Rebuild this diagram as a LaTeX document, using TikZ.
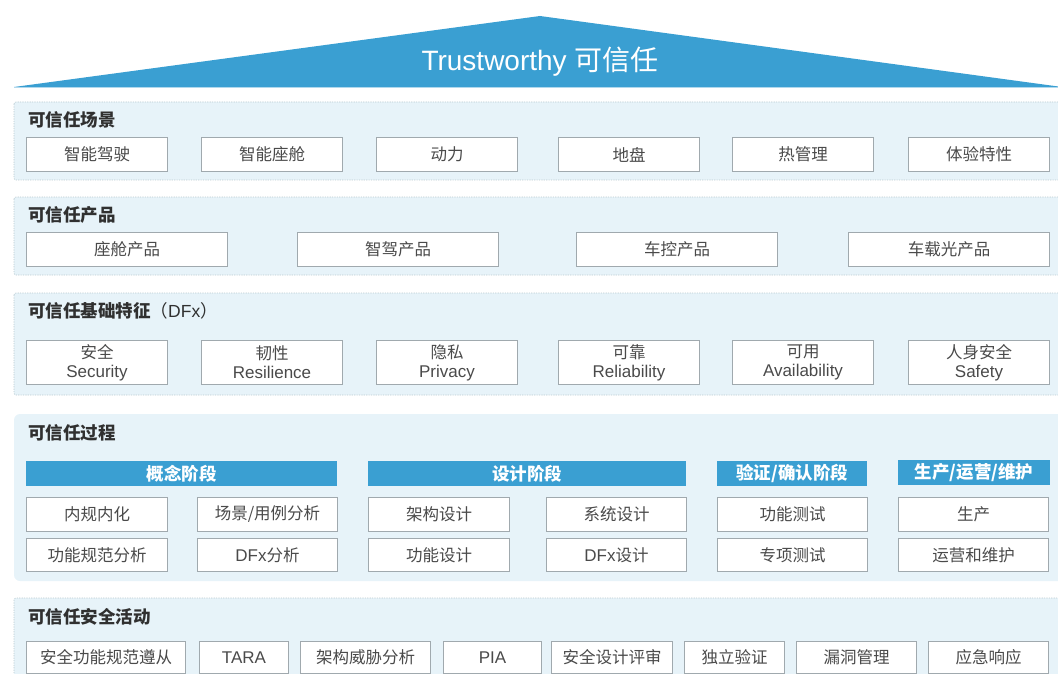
\documentclass[tikz,border=0pt]{standalone}
\usepackage{fontspec}
\setmainfont{Liberation Sans}
\newfontfamily\cjk{Noto Sans CJK SC}
\newcommand\zh[1]{{\cjk\fontsize{16.5}{19}\selectfont #1}}
\definecolor{tblue}{HTML}{3A9FD2}
\definecolor{pfill}{HTML}{E7F3F9}
\definecolor{pline}{HTML}{B9C9D0}
\definecolor{bline}{HTML}{A0A9AE}
\definecolor{btext}{HTML}{4A4A4A}
\definecolor{ttext}{HTML}{303030}
\tikzset{
  panel/.style={fill=pfill,draw=pline,line width=0.6pt,dash pattern=on 1.2pt off 1.2pt,rounded corners=2pt},
  panelr/.style={fill=pfill,rounded corners=6pt},
  ptitle/.style={anchor=west,inner sep=0pt,text=ttext,font=\cjk\bfseries\fontsize{17.5}{20}\selectfont},
  bx/.style={draw=bline,fill=white,line width=1pt,inner sep=0pt,text=btext,align=center,
    font=\fontsize{17}{19}\selectfont},
  hdr/.style={fill=tblue,inner sep=0pt,text=white,anchor=north west,
    font=\cjk\bfseries\fontsize{17.5}{20}\selectfont},
}
\newcommand\bx[6]{\node[bx,minimum width=#4pt,minimum height=#5pt,anchor=north west] (#1) at (#2,#3) {#6};}
\begin{document}
\begin{tikzpicture}[x=1pt,y=-1pt]
\clip (0,0) rectangle (1058,674);
\useasboundingbox (0,0) rectangle (1058,674);
% roof
\fill[tblue] (14,87) -- (540,16) -- (1062,87) -- cycle;
\draw[tblue!40,line width=0.8pt] (14,87.5) -- (1062,87.5);
\node[text=white,inner sep=0pt,font=\fontsize{28}{32}\selectfont] (roof) at (540,62) {Trustworthy {\cjk 可信任}};
% panel 1
\draw[panel] (14,102) rectangle (1070,180);
\node[ptitle] (t1) at (28,120) {可信任场景};
\bx{s1}{26}{137}{141}{34}{\zh{智能驾驶}}
\bx{s2}{201}{137}{141}{34}{\zh{智能座舱}}
\bx{s3}{376}{137}{141}{34}{\zh{动力}}
\bx{s4}{558}{137}{141}{34}{\zh{地盘}}
\bx{s5}{732}{137}{141}{34}{\zh{热管理}}
\bx{s6}{908}{137}{141}{34}{\zh{体验特性}}
% panel 2
\draw[panel] (14,197) rectangle (1070,275);
\node[ptitle] (t2) at (28,215) {可信任产品};
\bx{p1}{26}{232}{201}{34}{\zh{座舱产品}}
\bx{p2}{297}{232}{201}{34}{\zh{智驾产品}}
\bx{p3}{576}{232}{201}{34}{\zh{车控产品}}
\bx{p4}{848}{232}{201}{34}{\zh{车载光产品}}
% panel 3
\draw[panel] (14,293) rectangle (1070,395);
\node[ptitle] (t3) at (28,311) {可信任基础特征\mdseries（{\rmfamily DFx}）};
\bx{f1}{26}{340}{141}{44}{\zh{安全}\\Security}
\bx{f2}{201}{340}{141}{44}{\zh{韧性}\\Resilience}
\bx{f3}{376}{340}{141}{44}{\zh{隐私}\\Privacy}
\bx{f4}{558}{340}{141}{44}{\zh{可靠}\\Reliability}
\bx{f5}{732}{340}{141}{44}{\zh{可用}\\Availability}
\bx{f6}{908}{340}{141}{44}{\zh{人身安全}\\Safety}
% panel 4
\fill[panelr] (14,414) rectangle (1070,581);
\node[ptitle] (t4) at (28,433) {可信任过程};
\node[hdr,minimum width=311pt,minimum height=25pt] (h1) at (26,461) {概念阶段};
\node[hdr,minimum width=318pt,minimum height=25pt] (h2) at (368,461) {设计阶段};
\node[hdr,minimum width=150pt,minimum height=25pt] (h3) at (717,461) {验证/确认阶段};
\node[hdr,minimum width=152pt,minimum height=25pt] (h4) at (898,460) {生产/运营/维护};
\bx{c1}{26}{497}{141}{34}{\zh{内规内化}}
\bx{c2}{197}{497}{140}{34}{\zh{场景/用例分析}}
\bx{c3}{368}{497}{141}{34}{\zh{架构设计}}
\bx{c4}{546}{497}{140}{34}{\zh{系统设计}}
\bx{c5}{717}{497}{150}{34}{\zh{功能测试}}
\bx{c6}{898}{497}{150}{34}{\zh{生产}}
\bx{d1}{26}{538}{141}{33}{\zh{功能规范分析}}
\bx{d2}{197}{538}{140}{33}{DFx\zh{分析}}
\bx{d3}{368}{538}{141}{33}{\zh{功能设计}}
\bx{d4}{546}{538}{140}{33}{DFx\zh{设计}}
\bx{d5}{717}{538}{150}{33}{\zh{专项测试}}
\bx{d6}{898}{538}{150}{33}{\zh{运营和维护}}
% panel 5
\draw[panel] (14,598) rectangle (1070,690);
\node[ptitle] (t5) at (28,617) {可信任安全活动};
\bx{a1}{26}{641}{159}{32}{\zh{安全功能规范遵从}}
\bx{a2}{199}{641}{89}{32}{TARA}
\bx{a3}{300}{641}{130}{32}{\zh{架构威胁分析}}
\bx{a4}{443}{641}{98}{32}{PIA}
\bx{a5}{551}{641}{121}{32}{\zh{安全设计评审}}
\bx{a6}{684}{641}{100}{32}{\zh{独立验证}}
\bx{a7}{796}{641}{120}{32}{\zh{漏洞管理}}
\bx{a8}{928}{641}{120}{32}{\zh{应急响应}}
\end{tikzpicture}
\end{document}
